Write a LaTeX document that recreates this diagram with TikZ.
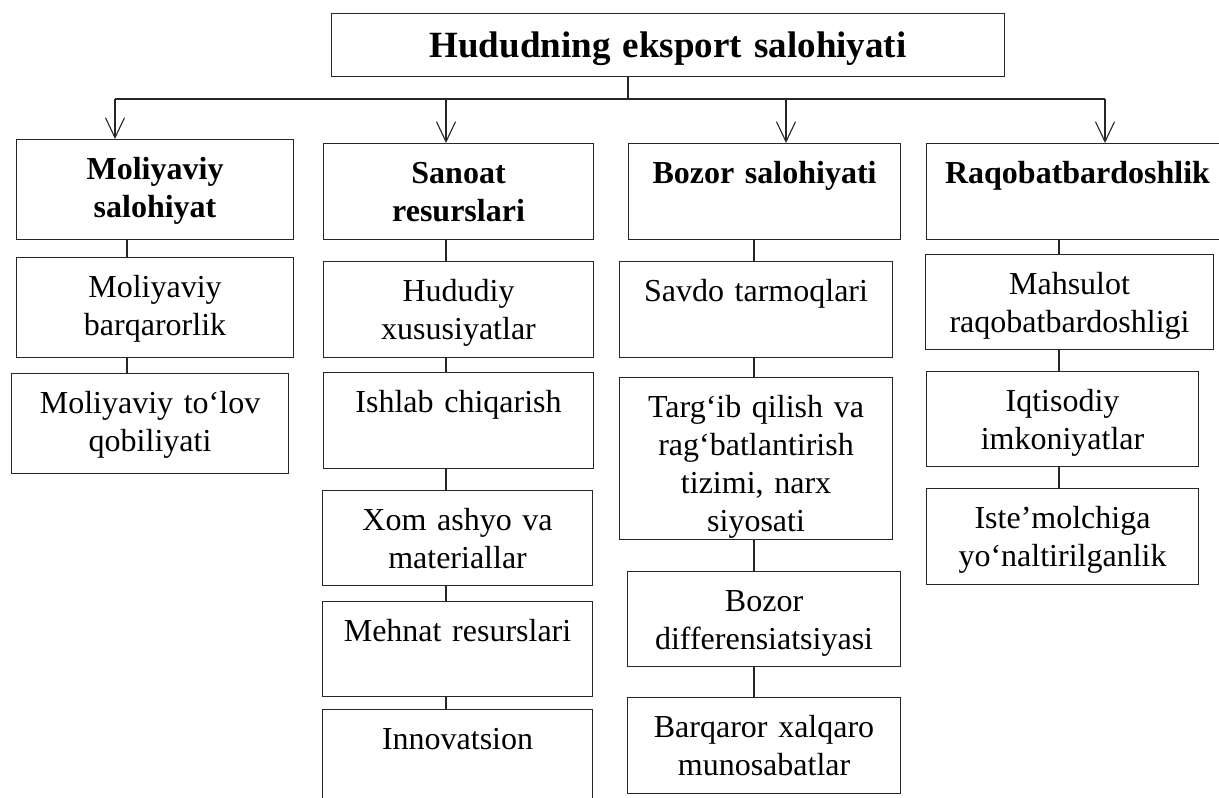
\documentclass[tikz,border=0pt]{standalone}
\usepackage{fontspec}
\setmainfont{Liberation Serif}
\usepackage{tikz}
\usetikzlibrary{arrows.meta}
\usetikzlibrary{positioning}
\tikzset{cell/.style={draw=black!85,line width=1.1pt,anchor=north west,inner xsep=0pt,inner ysep=0pt,align=center,text height=40pt,font=\fontsize{32}{38}\selectfont}}
\tikzset{head/.style={cell,font=\fontsize{32}{38}\selectfont\bfseries}}
\tikzset{link/.style={draw=black!85,line width=1.1pt}}
\tikzset{drop/.style={link,-{Straight Barb[length=20pt,width=19pt]}}}

\begin{document}
\begin{tikzpicture}[x=1pt,y=-1pt]
\useasboundingbox (0,0) rectangle (1219,798);
\clip (0,0) rectangle (1219,798);

\node[cell,font=\fontsize{37}{44}\selectfont\bfseries,text width=673pt,text height=44pt,text depth=19pt] (root) at (331,13) {Hududning eksport salohiyati};

\foreach \n/\x/\y/\w/\d/\t in {hdA/16/139/277/60/{Moliyaviy\\salohiyat},
    hdB/323/143/270/56/{Sanoat\\resurslari},
    hdC/628/143/272/56/{Bozor salohiyati},
    hdD/926/143/302/56/{Raqobatbardoshlik}} {
	\node[head,text width=\w pt,text depth=\d pt] (\n) at (\x,\y) {\t};
    }

\foreach \n/\x/\y/\w/\d/\t in {A1/16/257/277/60/{Moliyaviy\\barqarorlik},
    A2/11/373/277/60/{Moliyaviy to‘lov\\qobiliyati},
    B1/323/261/270/56/{Hududiy\\xususiyatlar},
    B2/323/372/270/56/{Ishlab chiqarish},
    B3/322/490/270/55/{Xom ashyo va\\materiallar},
    B4/322/601/270/55/{Mehnat resurslari},
    B5/322/709/270/60/{Innovatsion},
    C1/619/261/273/56/{Savdo tarmoqlari},
    C2/619/377/273/122/{Targ‘ib qilish va\\rag‘batlantirish\\tizimi, narx\\siyosati},
    C3/627/571/273/55/{Bozor\\differensiatsiyasi},
    C4/627/697/273/56/{Barqaror xalqaro\\munosabatlar},
    D1/925/254/288/55/{Mahsulot\\raqobatbardoshligi},
    D2/926/371/272/55/{Iqtisodiy\\imkoniyatlar},
    D3/926/488/272/56/{Iste’molchiga\\yo‘naltirilganlik}} {
	\node[cell,text width=\w pt,text depth=\d pt] (\n) at (\x,\y) {\t};
    }

\coordinate (bus) at (628,99);
\draw[link] (root.south -| bus) -- (bus);
\foreach \n/\x in {hdA/115,hdB/446,hdC/786,hdD/1105} {
	\coordinate (t\n) at (\x,99);
	\draw[drop] (t\n) -- (\n.north -| t\n);
    }
\draw[link] (thdA) -- (thdD);

\foreach \k/\x in {A/127,B/446,C/754,D/1059} {
	\coordinate (k\k) at (\x,0);
    }
\foreach \a/\b/\k in {hdA/A1/A, A1/A2/A, hdB/B1/B, B1/B2/B, B2/B3/B, B3/B4/B, B4/B5/B,
    hdC/C1/C, C1/C2/C, C2/C3/C, C3/C4/C, hdD/D1/D, D1/D2/D, D2/D3/D} {
	\draw[link] (\a.south -| k\k) -- (\b.north -| k\k);
    }
\end{tikzpicture}
\end{document}
